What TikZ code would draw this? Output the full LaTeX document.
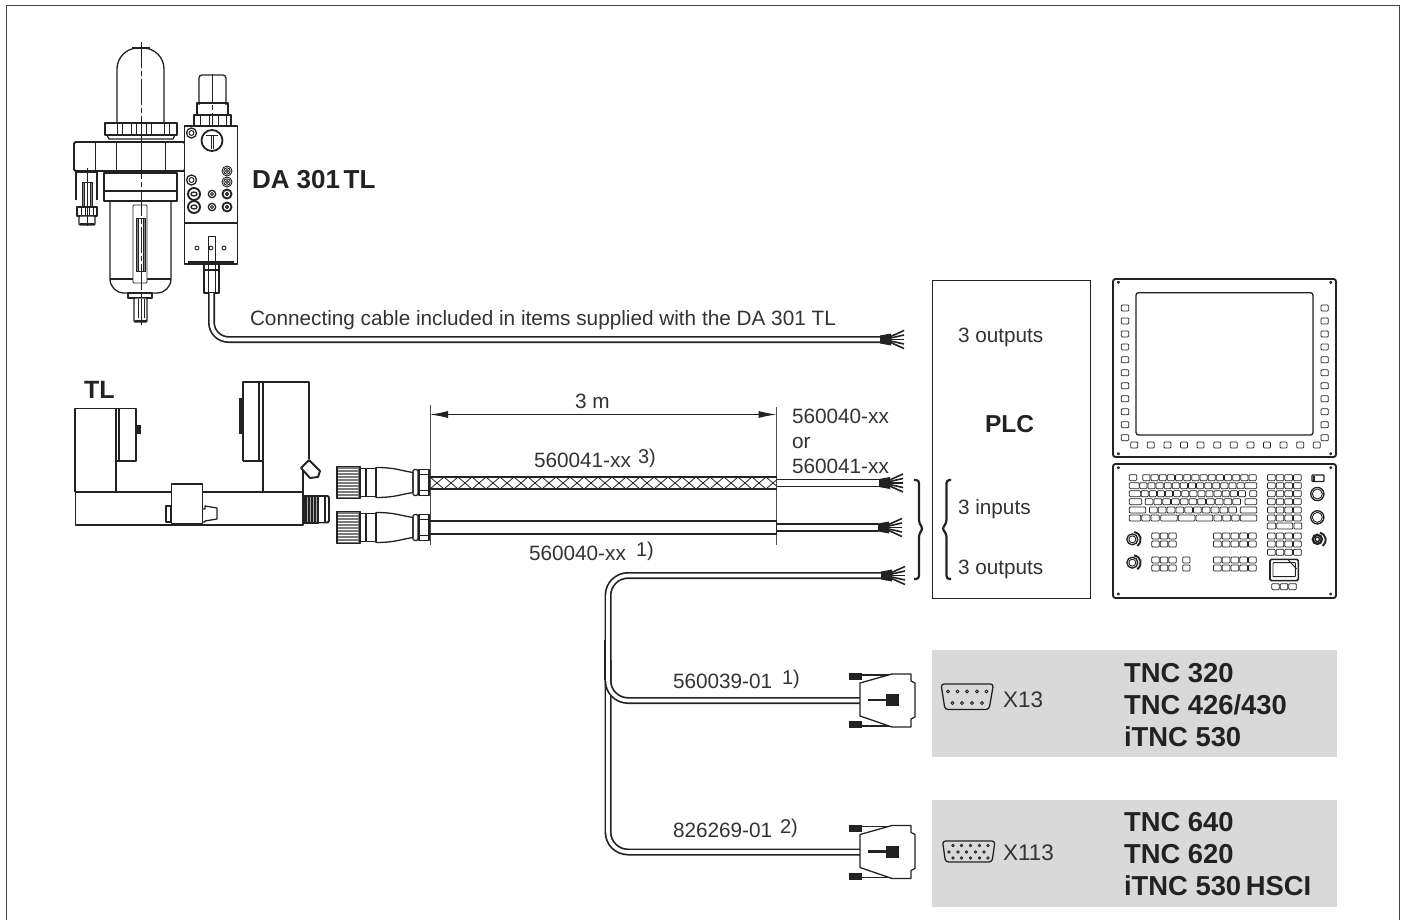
\documentclass[tikz,border=0pt]{standalone}
\usepackage{fontspec}
\setmainfont{Liberation Sans}
\usetikzlibrary{arrows.meta,decorations.pathreplacing}
\definecolor{ink}{HTML}{222222}
\definecolor{txt}{HTML}{333333}
\definecolor{panel}{HTML}{D9D9D9}
\tikzset{
  ln/.style={draw=ink,line width=1.3pt,line join=round},
  thk/.style={draw=ink,line width=1.9pt,line join=round},
  thn/.style={draw=ink,line width=.9pt,line join=round},
  lbl/.style={anchor=base west,inner sep=0pt,outer sep=0pt,text=txt,font=\fontsize{20.75}{24}\selectfont},
  xlbl/.style={lbl,font=\fontsize{22.5}{24}\selectfont},
  bld/.style={anchor=base west,inner sep=0pt,outer sep=0pt,text=ink,font=\fontsize{27.4}{30}\selectfont\bfseries},
  cable/.style={draw=ink,line width=1.7pt,double=white,double distance=3.6pt},
  thincable/.style={draw=ink,line width=1.6pt,double=white,double distance=5.6pt},
  key/.style={draw=ink,line width=.75pt,rounded corners=.9pt,fill=white},
  dim/.style={draw=ink,line width=1pt,{Latex[length=18pt,width=7pt]}-{Latex[length=18pt,width=7pt]}},
  tick/.style={draw=ink!80,line width=1pt}
}
% keys in 3x-zoom coordinates of the control panels
\newcommand{\zk}[3]{\draw[key] ({1100+(#1)/3},{270+(#3)/3-3}) rectangle ({1100+(#2)/3},{270+(#3)/3+3});}
\newcommand{\zscrew}[2]{\draw[thn] ({1100+(#1)/3},{270+(#2)/3}) circle (1.1pt);}
\newcommand{\krow}[5]{\foreach \i in {1,...,#4}{\zk{#1+(\i-1)*#3+1.5}{#1+\i*#3-1.5}{#2}}}
\newcommand{\fan}[2]{%
  \fill[ink] (#1,#2-4) -- (#1+11,#2-6) -- (#1+11,#2+6) -- (#1,#2+4) -- cycle;
  \foreach \d in {-9,-4.5,0,4.5,9}{\draw[draw=ink,line width=1.6pt] (#1+4,#2) -- (#1+24,#2+\d);}
}
\newcommand{\mtw}[1]{%
  \begin{scope}[shift={(0,#1)}]
   \fill[ink!60] (337,-16) rectangle (360,16);
   \foreach \d in {-13,-10,...,14}{\draw[white,line width=.7pt] (338,\d) -- (358,\d);}
   \draw[ln] (337,-16) rectangle (360,16);
   \draw[ln] (360,-14) rectangle (366,14);
   \draw[ln] (366,-14) rectangle (376,14);
   \draw[ln] (376,-15) .. controls (395,-15) and (400,-12) .. (413,-10) -- (413,10) .. controls (400,12) and (395,15) .. (376,15) -- cycle;
   \draw[ln,rounded corners=1.5pt] (413,-13) rectangle (418,13);
   \draw[ln] (419,-13) rectangle (429,13);
   \draw[thn] (419,-8) -- (429,-8) (419,8) -- (429,8);
  \end{scope}}
\newcommand{\dsub}[1]{%
  \begin{scope}[shift={(0,#1)}]
   \fill[ink] (849,673) rectangle (862,680);
   \fill[ink] (849,721) rectangle (862,728);
   \draw[thk] (862,675) -- (893,675) (862,726) -- (893,726);
   \draw[ln,fill=white] (860,683) -- (892,674) -- (911,674) -- (911,681) -- (915,683) -- (915,717) -- (911,719) -- (911,727) -- (892,727) -- (860,716) -- cycle;
   \draw[draw=ink,line width=2.4pt] (868,700) -- (886,700);
   \fill[ink] (886,694) rectangle (899,706);
  \end{scope}}
\begin{document}
\begin{tikzpicture}[x=1pt,y=-1pt]
\useasboundingbox (0,0) rectangle (1405,920);
\fill[white] (0,0) rectangle (1405,920);
% open frame
\draw[draw=ink!85,line width=1.6pt] (6.5,920) -- (6.5,5.5) -- (1399.5,5.5) -- (1399.5,920);

% ---------- grey boxes
\node[fill=panel,minimum width=405pt,minimum height=107pt,inner sep=0pt,anchor=north west] (boxA) at (932,650) {};
\node[fill=panel,minimum width=405pt,minimum height=107pt,inner sep=0pt,anchor=north west] (boxB) at (932,800) {};
% ---------- PLC
\node[draw=ink,line width=1.4pt,minimum width=158pt,minimum height=318pt,inner sep=0pt,anchor=north west] (plc) at (932,279.5) {};

% ---------- filter / regulator DA 301 TL
\draw[ln,rounded corners=21pt] (117,123) -- (117,48) -- (164,48) -- (164,123);
\draw[thk] (132,48) -- (150,48);
\draw[thk,fill=white] (105,123) rectangle (177,135);
\draw[ln] (107,135) -- (109,139) -- (173,139) -- (175,135);
\foreach \x in {117,122,131,136,146,151,164,169}{\draw[thn] (\x,124) -- (\x,134);}
\draw[thk,fill=white,rounded corners=1.5pt] (74,142) rectangle (185,171);
\foreach \x in {95,116,141,165}{\draw[thn] (\x,142) -- (\x,171);}
\draw[ln] (185,142) -- (188,140) -- (188,173) -- (185,171);
\draw[ln,fill=white] (104,173) rectangle (177,201);
\draw[ln] (104,191) -- (177,191);
\draw[thk] (104,172.5) -- (177,172.5);
\draw[ln,rounded corners=14pt] (110,201) -- (110,293) -- (171,293) -- (171,201);
\draw[ln] (110,279) -- (171,279);
\draw[thn,fill=white,rounded corners=1pt] (133,205) rectangle (147,283);
\draw[thn,fill=white] (136,218) rectangle (145,271);
\draw[thn,fill=ink!55] (136,218) rectangle (138,271);
\draw[thn,fill=ink!55] (143,218) rectangle (145,271);
\draw[ln,fill=white] (128,293) rectangle (152,298);
\draw[ln,fill=white,rounded corners=1pt] (134,298) rectangle (147,322);
\foreach \x in {138,141,144}{\draw[thn] (\x,299) -- (\x,318);}
\draw[thk] (135,321) -- (147,321);
\draw[ln] (76,172) -- (76,200) (97,172) -- (97,200);
\draw[thk] (76,172) -- (97,172);
\draw[thn,fill=white] (82,182) rectangle (92,207);
\draw[thn,fill=ink!55] (82,182) rectangle (84,207);
\draw[thn,fill=ink!55] (90,182) rectangle (92,207);
\draw[ln,fill=white] (77,207) rectangle (97,216);
\foreach \x in {81,85,89,93}{\draw[thn] (\x,207) -- (\x,216);}
\draw[ln,fill=white,rounded corners=1pt] (79,216) rectangle (95,225);
\draw[thk] (80,224) -- (94,224);
\draw[thn,dash pattern=on 26pt off 3pt on 5pt off 3pt] (141,42) -- (141,325);
\draw[thn] (87,168) -- (87,226);
% regulator
\draw[ln,rounded corners=3pt] (199,105) -- (199,75) -- (226,75) -- (226,105);
\draw[ln] (197,103) rectangle (228,115);
\draw[ln,fill=white] (194,115) rectangle (231,126);
\foreach \x in {200,209,218,226}{\draw[thn] (\x,115) -- (\x,126);}
\draw[thn,dash pattern=on 28pt off 3pt on 5pt off 3pt] (212,74) -- (212,126);
\draw[thk,fill=white] (184.5,126) rectangle (237.5,264);
\draw[ln] (184.5,223) -- (237.5,223);
\draw[ln] (188,262) -- (234,262);
\draw[draw=ink,line width=1.8pt] (212,140.5) circle (10.5pt);
\draw[thn] (206,135) -- (218,135) (211,135) -- (211,149) (213,135) -- (213,149);
\foreach \x/\y in {191.5/133,191.5/180}{\draw[ln] (\x,\y) circle (5pt); \draw[thn] (\x,\y) circle (2.5pt);}
\foreach \y in {171,182}{\draw[thn] (227,\y) circle (5pt); \draw[thn] (227,\y) circle (3.2pt); \draw[thn] (227,\y) circle (1.5pt);}
\foreach \x/\y in {227/194,227/207}{\draw[thk] (\x,\y) circle (4.5pt); \draw[ln] (\x,\y) circle (1.5pt);}
\foreach \x/\y in {212/194,212/207}{\draw[ln] (\x,\y) circle (3.7pt); \draw[thn] (\x,\y) circle (1.5pt);}
\foreach \x/\y in {194/194,194/207}{\draw[thk] (\x,\y) circle (6pt); \draw[ln,fill=white] (\x,\y) ellipse (3pt and 2pt);}
\foreach \x in {197,211,224}{\draw[thn] (\x,248) circle (2pt);}
\draw[thn] (208.5,236) rectangle (215,262);
\draw[ln,fill=white] (204,264) rectangle (219,270);
\draw[ln,fill=white] (204,270) rectangle (219,293);
\foreach \x in {208,215}{\draw[thn] (\x,264) -- (\x,293);}
\coordinate (daOut) at (211.5,293);
\coordinate (daEnd) at (880,339.5);
\coordinate (daCorner) at (211.5,339.5);

% ---------- TL unit
\draw[ln] (75,492) -- (75,408.5) -- (136,408.5) -- (136,461) -- (116,461);
\draw[ln] (116,408.5) -- (116,492);
\draw[ln] (119,408.5) -- (119,461);
\fill[ink] (136,425) rectangle (140.5,433.5);
\draw[ln] (243,461) -- (243,382) -- (309,382) -- (309,459);
\draw[ln] (259,382) -- (259,461);
\draw[ln] (263,382) -- (263,492);
\draw[ln] (243,461) -- (263,461);
\fill[ink] (238.5,398) rectangle (243,434);
\draw[ln] (303,470) -- (303,492);
\draw[thk,fill=white] (301,468) -- (309,460) -- (320,471) -- (318,477) -- (310,478) -- cycle;
\draw[thk,fill=white] (75.5,492) rectangle (303,525);
\draw[ln,fill=white] (166,506) rectangle (171,522);
\draw[ln,fill=white] (202,509) -- (205,509) -- (205,506) -- (217,508) -- (217,519) -- (205,521) -- (205,522) -- (202,522) -- cycle;
\draw[ln,fill=white] (171.5,484) rectangle (202.5,523.5);
\fill[ink] (304,495) rectangle (319,524);
\foreach \x in {307,310,313,316}{\draw[ink!40,line width=.8pt] (\x,497) -- (\x,522);}
\draw[thk,fill=white,rounded corners=2pt] (318,496) rectangle (329,522.5);
\draw[thk,fill=white] (318,496) rectangle (325,522.5);

% ---------- M12 connectors
\mtw{482.5}
\mtw{527.5}
% ---------- dimension
\draw[tick] (430,405) -- (430,545);
\draw[tick] (776.5,407) -- (776.5,545);
\coordinate (dimL) at (430,414.5);
\coordinate (dimR) at (776.5,414.5);
\draw[dim] (dimL) -- (dimR);
% ---------- braided cable
\coordinate (brA) at (430,483);
\coordinate (brB) at (776.5,483);
\begin{scope}
 \clip (430,477) rectangle (776.5,489);
 \foreach \i in {0,...,25}{
  \draw[draw=ink,line width=.8pt] ({430+14*\i},489) -- ({444+14*\i},477);
  \draw[draw=ink,line width=.8pt] ({430+14*\i},477) -- ({444+14*\i},489);}
\end{scope}
\draw[thk] (430,476.7) -- (776.5,476.7) (430,489.3) -- (776.5,489.3);
% plain cable
\coordinate (plA) at (430,527.5);
\coordinate (plB) at (776.5,527.5);
\draw[draw=ink,line width=1.6pt] (430,521) -- (776.5,521) (430,534) -- (776.5,534);
\draw[draw=ink,line width=1.6pt] (776.5,521) -- (776.5,534);
% tail cables
\coordinate (t1) at (879,483);
\coordinate (t2) at (878,527.5);
\draw[thincable] (brB) -- (t1);
\draw[thincable] (plB) -- (t2);
\fan{879}{483}
\fan{878}{527.5}
% Y cable
\coordinate (y0) at (881,575.5);
\coordinate (yc) at (608,575.5);
\coordinate (ym) at (608,700.5);
\coordinate (yb) at (608,852);
\coordinate (d1) at (860,700.5);
\coordinate (d2) at (860,852);
\draw[cable,rounded corners=20pt] (y0) -- (yc) -- (yb) -- (d2);
\draw[cable,rounded corners=20pt] (608,660) -- (ym) -- (d1);
\draw[draw=ink,line width=1.7pt] (605.2,640) -- (605.2,680);
\fan{881}{575.5}
% DA cable
\draw[cable,rounded corners=17pt] (daOut) -- (daCorner) -- (daEnd);
\fan{880}{339.5}
% ---------- D-sub plugs
\dsub{0}
\dsub{151.5}
% ---------- braces
\draw[draw=ink,line width=2.2pt,rounded corners=3pt] (914,480) -- (919,480) -- (919,523) -- (923,528.5) -- (919,534) -- (919,579) -- (914,579);
\draw[draw=ink,line width=2.2pt,rounded corners=3pt] (951,480) -- (946.5,480) -- (946.5,523) -- (942,528.5) -- (946.5,534) -- (946.5,579) -- (951,579);
% ---------- D-sub icons
\draw[ln,fill=none,rounded corners=3pt] (941,684) -- (993.5,684) -- (989,709.5) -- (945,709.5) -- cycle;
\foreach \x in {948,957.5,967,977,986.5}{\draw[thn] (\x,691.5) circle (1.5pt);}
\foreach \x in {952.5,962,972,982}{\draw[thn] (\x,703) circle (1.5pt);}
\draw[ln,rounded corners=3pt] (942.5,841) -- (995,841) -- (992,862) -- (945.5,862) -- cycle;
\foreach \x in {953,961.5,970.5,979.5,988}{\draw[thn] (\x,845.5) circle (1.2pt);}
\foreach \x in {949,958,966.5,975.5,984}{\draw[thn] (\x,852) circle (1.2pt);}
\foreach \x in {953,961.5,970.5,979.5,988}{\draw[thn] (\x,858) circle (1.2pt);}

% ---------- screen panel
\draw[thk,rounded corners=2.5pt] (1113,279) rectangle (1336,457);
\draw[ln,rounded corners=2.5pt] (1136,292.7) rectangle (1313,435);
\foreach \i in {0,...,10}{
  \zk{64}{86}{114+38.9*\i}
  \zk{663}{685}{114+38.9*\i}
}
\foreach \i in {0,...,11}{\zk{92+\i*49.8}{113+\i*49.8}{525}}
\foreach \x/\y in {55/37,692/37,55/551,692/551}{\zscrew{\x}{\y}}
% ---------- keyboard panel
\draw[thk,rounded corners=2.5pt] (1113,464) rectangle (1336,598);
\foreach \x/\y in {55/593,692/593,55/972,692/972}{\zscrew{\x}{\y}}
\zk{88}{110}{623}
\krow{127}{623}{24.5}{14}{}
\zk{88}{118}{647}
\krow{118}{647}{24.3}{13}{}
\zk{434}{470}{647}
\zk{88}{122}{671}
\krow{122}{671}{24.3}{13}{}
\zk{449}{470}{671}
\zk{88}{125}{695}
\krow{134}{695}{26.3}{11}{}
\zk{435}{470}{695}
\zk{88}{137}{720}
\krow{147}{720}{26.4}{10}{}
\zk{421}{470}{720}
\zk{88}{122}{744}
\zk{125}{150}{744}
\zk{153}{178}{744}
\zk{182}{232}{744}
\zk{235}{285}{744}
\zk{288}{338}{744}
\zk{342}{365}{744}
\zk{368}{392}{744}
\zk{395}{418}{744}
\zk{421}{470}{744}
\foreach \y in {623,647,671,695,720,744,798,822,847}{\krow{501}{\y}{26}{4}{}}
\zk{502}{527}{768}
\zk{530}{578}{768}
\zk{582}{605}{768}
\foreach \y in {798,822,870,894}{\krow{154}{\y}{25.5}{3}{} \krow{339}{\y}{26.3}{5}{}}
\foreach \y in {870,894}{\zk{248}{270}{\y}}
\draw[draw=ink,line width=1.2pt,fill=white,rounded corners=.8pt] (1312,475) rectangle (1324,481.5);
\draw[ink,line width=2pt] (1313.5,475.5) -- (1313.5,481);
\foreach \y in {672,742}{
  \draw[ln] ({1100+652/3},{270+\y/3}) circle (6.6pt);
  \draw[thn] ({1100+652/3},{270+\y/3}) circle (5pt);}
\draw[draw=ink,line width=2.4pt] ({1100+652/3},{270+808/3}) circle (4.5pt);
\draw[ln] ({1100+652/3},{270+808/3}) circle (2.2pt);
\draw[thk] ({1100+660/3},{270+788/3}) .. controls ({1100+680/3},{270+795/3}) and ({1100+683/3},{270+815/3}) .. ({1100+668/3},{270+828/3});
\foreach \y in {808,878}{
  \draw[ln] ({1100+97/3},{270+\y/3}) circle (5.5pt);
  \draw[thn] ({1100+97/3},{270+\y/3}) circle (3.5pt);
  \draw[thk] ({1100+102/3},{270+(\y-22)/3}) .. controls ({1100+125/3},{270+(\y-17)/3}) and ({1100+128/3},{270+(\y+5)/3}) .. ({1100+112/3},{270+(\y+20)/3});}
\draw[draw=ink,line width=1.6pt,fill=white,rounded corners=1.5pt] ({1100+510/3},{270+868/3}) rectangle ({1100+595/3},{270+932/3});
\draw[thn,rounded corners=.5pt] ({1100+519/3},{270+878/3}) rectangle ({1100+586/3},{270+920/3});
\draw[thn] ({1100+563/3},{270+868/3}) -- ({1100+590/3},{270+897/3});
\krow{514}{950}{25.5}{3}{}

% ---------- texts
\node[bld,font=\fontsize{26}{30}\selectfont\bfseries] (tDA) at (252,188.5) {DA 301\kern3.5pt TL};
\node[bld,font=\fontsize{25}{30}\selectfont\bfseries] (tTL) at (84,398) {TL};
\node[lbl] (tConn) at (250,325) {Connecting cable included in items supplied with the DA 301 TL};
\node[lbl] (t3m) at (575,408) {3 m};
\node[lbl] (t41) at (534,467) {560041-xx};
\node[lbl,font=\fontsize{20}{22}\selectfont] (s41) at (638,463.5) {3)};
\node[lbl] (t40) at (529,560) {560040-xx};
\node[lbl,font=\fontsize{20}{22}\selectfont] (s40) at (636,556.5) {1)};
\node[lbl] (t40b) at (792,423) {560040-xx};
\node[lbl] (tor) at (792,448) {or};
\node[lbl] (t41b) at (792,473) {560041-xx};
\node[lbl] (tout1) at (958,342) {3 outputs};
\node[lbl] (tin) at (958,514) {3 inputs};
\node[lbl] (tout2) at (958,574) {3 outputs};
\node[bld,font=\fontsize{24.5}{30}\selectfont\bfseries] (tPLC) at (985,432) {PLC};
\node[lbl] (t39) at (673,688) {560039-01};
\node[lbl,font=\fontsize{20}{22}\selectfont] (s39) at (782,684) {1)};
\node[lbl] (t26) at (673,837) {826269-01};
\node[lbl,font=\fontsize{20}{22}\selectfont] (s26) at (780,833) {2)};
\node[xlbl] (tX13) at (1003,707) {X13};
\node[xlbl] (tX113) at (1003,860) {X113};
\node[bld] (a1) at (1124,682) {TNC 320};
\node[bld] (a2) at (1124,714) {TNC 426/430};
\node[bld] (a3) at (1124,746) {iTNC 530};
\node[bld] (b1) at (1124,831) {TNC 640};
\node[bld] (b2) at (1124,863) {TNC 620};
\node[bld] (b3) at (1124,895) {iTNC 530\kern-3pt\ HSCI};
\end{tikzpicture}
\end{document}
